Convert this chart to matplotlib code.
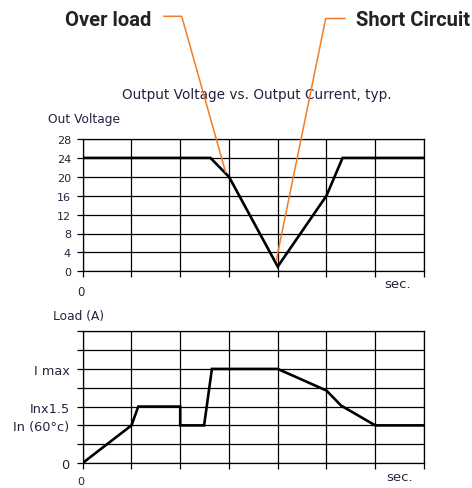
import matplotlib
matplotlib.use("Agg")
import matplotlib.pyplot as plt
from matplotlib.lines import Line2D

# ---- data ----
time_v = [0, 2.62, 3, 4, 5, 5.33, 7]
volt = [24, 24, 20, 1, 16, 24, 24]
volt_ticks = [0, 4, 8, 12, 16, 20, 24, 28]

time_l = [0, 1, 1.14, 2, 2, 2.49, 2.65, 4, 5, 5.3, 6, 7]
load = [0, 2, 3, 3, 2, 2, 5, 5, 3.85, 3.05, 2, 2]
load_tick_pos = [0, 1, 2, 3, 4, 5, 6, 7]
load_tick_labels = ["0", "", "In (60°c)", "Inx1.5", "", "I max", "", ""]

overload_pt = (2.93, 21.0)
short_pt = (3.97, 2.3)

W, H = 472, 489
fig = plt.figure(figsize=(W / 100, H / 100), dpi=100)
fig.patch.set_facecolor("white")

def fx(px):
    return px / W

def fy(py):
    return 1 - py / H

LBL = "#23233f"
ORANGE = "#f27d26"
small_font = "DejaVu Sans"

left, right = 82.7, 424
ax1 = fig.add_axes([fx(left), fy(272.3), fx(right - left), (272.3 - 140) / H])
ax2 = fig.add_axes([fx(left), fy(464), fx(right - left), (464 - 332.3) / H])

for ax in (ax1, ax2):
    ax.set_xlim(0, 7)
    ax.set_xticks(range(8))
    ax.set_xticklabels([])
    ax.grid(True, color="black", linewidth=0.9)
    ax.set_axisbelow(True)
    for s in ax.spines.values():
        s.set_color("black")
        s.set_linewidth(0.9)
    ax.tick_params(axis="both", length=4, width=0.9, color="black")

ax1.set_ylim(0, 28)
ax1.set_yticks(volt_ticks)
ax1.set_yticklabels([str(v) for v in volt_ticks], fontsize=8, color=LBL,
                    family=small_font)
ax1.tick_params(axis="y", pad=4.5)
ax1.plot(time_v, volt, color="black", linewidth=1.9, solid_joinstyle="miter")

ax2.set_ylim(0, 7)
ax2.set_yticks(load_tick_pos)
ax2.set_yticklabels(load_tick_labels, fontsize=9.3, color=LBL, family=small_font)
ax2.tick_params(axis="y", pad=5.5)
ax2.plot(time_l, load, color="black", linewidth=1.9, solid_joinstyle="miter")

# axis texts
fig.text(fx(47.7), fy(120), "Out Voltage", fontsize=8.8, color=LBL,
         family=small_font, ha="left", va="center")
fig.text(fx(53), fy(317), "Load (A)", fontsize=8.8, color=LBL,
         family=small_font, ha="left", va="center")
fig.text(fx(81), fy(292.7), "0", fontsize=8.5, color=LBL,
         family=small_font, ha="center", va="center")
fig.text(fx(81), fy(482.5), "0", fontsize=8, color=LBL,
         family=small_font, ha="center", va="center")
fig.text(fx(411), fy(284), "sec.", fontsize=9.5, color=LBL,
         family=small_font, ha="right", va="center")
fig.text(fx(413), fy(478), "sec.", fontsize=9.5, color=LBL,
         family=small_font, ha="right", va="center")

fig.text(fx(256.7), fy(95), "Output Voltage vs. Output Current, typ.",
         fontsize=9.8, color=LBL, family=small_font, ha="center", va="center")

# headline labels
big = dict(fontsize=14.5, fontweight="bold", color="#222222",
           family=["Roboto", "DejaVu Sans"], va="center")
fig.text(fx(151), fy(20), "Over load", ha="right", **big)
fig.text(fx(356), fy(21), "Short Circuit", ha="left", **big)

# annotation leader lines
fig.canvas.draw()
inv = fig.transFigure.inverted()
p1 = inv.transform(ax1.transData.transform(overload_pt))
p2 = inv.transform(ax1.transData.transform(short_pt))
fig.add_artist(Line2D([fx(164), fx(181.7), p1[0]], [fy(17.3), fy(17.3), p1[1]],
                      transform=fig.transFigure, color=ORANGE, linewidth=1.1,
                      zorder=10))
fig.add_artist(Line2D([fx(345), fx(325.7), p2[0]], [fy(19.5), fy(19.5), p2[1]],
                      transform=fig.transFigure, color=ORANGE, linewidth=1.1,
                      zorder=10))

fig.savefig("out.png", dpi=100)
